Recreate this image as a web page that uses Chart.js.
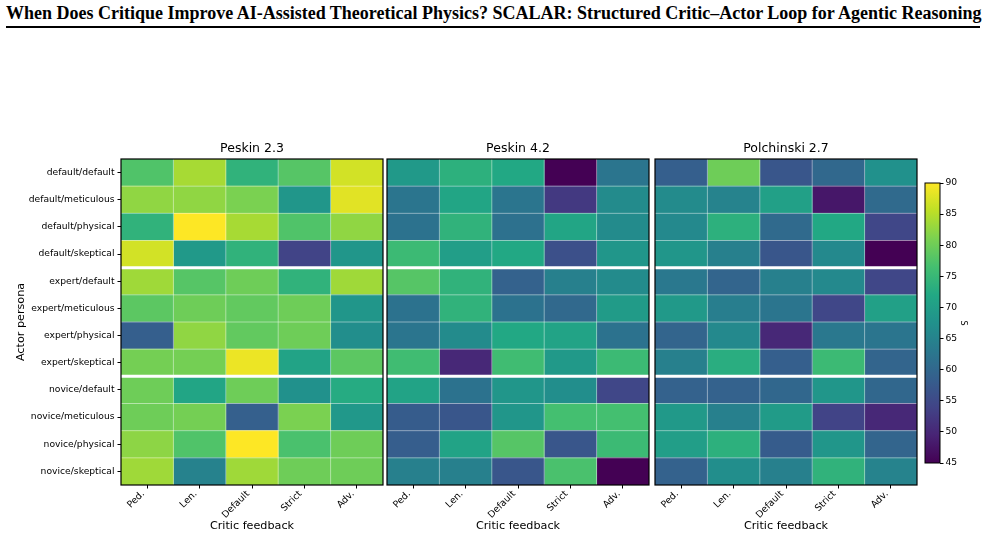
<!DOCTYPE html>
<html>
<head>
<meta charset="utf-8">
<script src="https://cdn.jsdelivr.net/npm/chart.js@4"></script>
<style>
  body { margin: 0; background: #fff; width: 986px; height: 536px; position: relative; overflow: hidden; }
  #hdr { position: absolute; left: 6px; top: 3px; width: 974px; text-align: center; white-space: nowrap;
         font: bold 18px "Liberation Serif", "Times New Roman", serif; border-bottom: 2px solid #000; padding-bottom: 2px; }
  canvas { position: absolute; }
</style>
</head>
<body>
<div id="hdr">When Does Critique Improve AI-Assisted Theoretical Physics? SCALAR: Structured Critic–Actor Loop for Agentic Reasoning</div>
<canvas id="p1" width="386" height="401" style="left:0;top:135px"></canvas>
<canvas id="p2" width="268" height="401" style="left:384px;top:135px"></canvas>
<canvas id="p3" width="268" height="401" style="left:652px;top:135px"></canvas>
<canvas id="cb" width="68" height="306" style="left:918px;top:170px"></canvas>
<script>
const personas = ['default/default', 'default/meticulous', 'default/physical', 'default/skeptical',
  'expert/default', 'expert/meticulous', 'expert/physical', 'expert/skeptical',
  'novice/default', 'novice/meticulous', 'novice/physical', 'novice/skeptical'];
const feedback = ['Ped.', 'Len.', 'Default', 'Strict', 'Adv.'];

// score S, rows = actor persona, cols = critic feedback
const peskin23 = [
  [77.5, 84, 74, 78, 87],
  [82.5, 82.5, 81, 68.5, 88],
  [74, 90, 84, 77.5, 82.5],
  [87, 69, 74, 54, 68.5],
  [83.5, 78, 80, 74, 83.5],
  [78.5, 80, 79, 80, 68.5],
  [58.5, 82.5, 79, 80, 67],
  [80.5, 80.5, 88.8, 71, 78.5],
  [80, 71.5, 80, 67.5, 72.5],
  [80, 80.5, 58.7, 81, 68.8],
  [82.3, 77.5, 90, 77, 80],
  [83.5, 64.8, 83.5, 80, 80]
];
const peskin42 = [
  [69, 73.5, 72, 45, 62.5],
  [62.5, 71.5, 62.5, 52.5, 66.5],
  [62, 74, 61.8, 71.5, 66.5],
  [75.5, 70, 72, 56, 68.5],
  [78, 74, 59, 64.5, 66.5],
  [62, 74, 62, 60.3, 69.5],
  [62.5, 66.5, 72, 71, 62],
  [76, 50, 76, 69, 75.5],
  [71, 62, 68.5, 67, 54.5],
  [58, 57, 68.5, 76.5, 76.5],
  [58.3, 71, 78, 57, 75.5],
  [64.5, 64.5, 57, 77, 45]
];
const polchinski27 = [
  [58.5, 80, 57, 60.2, 67.5],
  [66.5, 65, 70.5, 47.8, 60.5],
  [66, 73.5, 60.5, 72, 54.5],
  [68.5, 64.5, 57, 66, 45],
  [63, 59.5, 64.5, 66, 54.5],
  [69, 64, 62.5, 54.5, 70.5],
  [59.5, 66, 50, 63, 62.5],
  [64.5, 73, 58.5, 75.5, 59.5],
  [59, 59, 60, 68.5, 60],
  [69, 64.5, 69.5, 54, 50],
  [70, 73.5, 58, 68.5, 59.5],
  [59, 67, 64.5, 74, 65]
];
const vmin = 45, vmax = 90;
const cbTicks = [45, 50, 55, 60, 65, 70, 75, 80, 85, 90];

const viridisStops = ['#440154', '#482475', '#414487', '#355f8d', '#2a788e', '#21918c',
  '#22a884', '#44bf70', '#7ad151', '#bddf26', '#fde725'];

function hexRgb(h) {
  return [parseInt(h.slice(1, 3), 16), parseInt(h.slice(3, 5), 16), parseInt(h.slice(5, 7), 16)];
}
function viridis(v) {
  let t = Math.min(1, Math.max(0, (v - vmin) / (vmax - vmin))) * (viridisStops.length - 1);
  const i = Math.min(Math.floor(t), viridisStops.length - 2);
  const f = t - i;
  const a = hexRgb(viridisStops[i]), b = hexRgb(viridisStops[i + 1]);
  const c = a.map((x, k) => Math.round(x + (b[k] - x) * f));
  return `rgb(${c[0]},${c[1]},${c[2]})`;
}

const FONT = '"DejaVu Sans", sans-serif';
const TICK = 9.2;

// cell separators, group separators, frame and panel title
function cellLines(title) {
  return {
    id: 'cellLines',
    afterDatasetsDraw(chart) {
      const { ctx, chartArea: a, scales: { x, y } } = chart;
      ctx.save();
      ctx.strokeStyle = 'rgba(255,255,255,0.45)';
      ctx.lineWidth = 1;
      for (let c = 1; c < feedback.length; c++) {
        const px = x.getPixelForValue(c);
        ctx.beginPath(); ctx.moveTo(px, a.top); ctx.lineTo(px, a.bottom); ctx.stroke();
      }
      for (let r = 1; r < personas.length; r++) {
        const py = (y.getPixelForValue(r - 1) + y.getPixelForValue(r)) / 2;
        ctx.beginPath(); ctx.moveTo(a.left, py); ctx.lineTo(a.right, py); ctx.stroke();
      }
      ctx.strokeStyle = '#fff';
      ctx.lineWidth = 3;
      [4, 8].forEach(r => {
        const py = (y.getPixelForValue(r - 1) + y.getPixelForValue(r)) / 2;
        ctx.beginPath(); ctx.moveTo(a.left, py); ctx.lineTo(a.right, py); ctx.stroke();
      });
      ctx.strokeStyle = '#000';
      ctx.lineWidth = 1.2;
      ctx.strokeRect(a.left, a.top, a.right - a.left, a.bottom - a.top);
      ctx.fillStyle = '#000';
      ctx.font = '12.5px ' + FONT;
      ctx.textAlign = 'center';
      ctx.textBaseline = 'middle';
      ctx.fillText(title, (a.left + a.right) / 2, a.top - 10);
      ctx.restore();
    }
  };
}

function makePanel(id, title, values, first) {
  const datasets = feedback.map((f, c) => ({
    label: f,
    data: personas.map(p => ({ x: [c, c + 1], y: p })),
    backgroundColor: values.map(row => viridis(row[c])),
    borderWidth: 0,
    grouped: false,
    barPercentage: 1,
    categoryPercentage: 1
  }));
  new Chart(document.getElementById(id), {
    type: 'bar',
    data: { labels: personas, datasets },
    options: {
      indexAxis: 'y',
      responsive: false,
      animation: false,
      events: [],
      layout: { padding: { left: first ? 14 : 3, right: 3, top: 24, bottom: 0 } },
      plugins: {
        legend: { display: false },
        tooltip: { enabled: false },
        title: { display: false }
      },
      scales: {
        x: {
          type: 'linear', min: 0, max: feedback.length,
          afterBuildTicks: s => { s.ticks = feedback.map((f, i) => ({ value: i + 0.5 })); },
          afterFit: s => { s.height = 51; },
          ticks: { callback: (v, i) => feedback[i], minRotation: 45, maxRotation: 45, color: '#000',
                   font: { family: FONT, size: 9.4 }, padding: 0, labelOffset: -4 },
          grid: { drawOnChartArea: false, drawTicks: true, tickLength: 3.5, color: '#000' },
          border: { display: false },
          title: { display: true, text: 'Critic feedback', color: '#000', font: { family: FONT, size: 11.2 }, padding: { top: 0, bottom: 3 } }
        },
        y: {
          type: 'category',
          display: first,
          afterFit: s => { s.width = first ? 107 : 0; },
          ticks: { color: '#000', font: { family: FONT, size: TICK }, padding: 3 },
          grid: { offset: false, drawOnChartArea: false, drawTicks: true, tickLength: 3.5, color: '#000' },
          border: { display: false },
          title: { display: true, text: 'Actor persona', color: '#000', font: { family: FONT, size: 11.2 }, padding: 0 }
        }
      }
    },
    plugins: [cellLines(title)]
  });
}

makePanel('p1', 'Peskin 2.3', peskin23, true);
makePanel('p2', 'Peskin 4.2', peskin42, false);
makePanel('p3', 'Polchinski 2.7', polchinski27, false);

// colorbar
new Chart(document.getElementById('cb'), {
  type: 'bar',
  data: {
    labels: ['S'],
    datasets: [{
      data: [[vmin, vmax]],
      backgroundColor: ctx => {
        const a = ctx.chart.chartArea;
        if (!a) return '#21918c';
        const g = ctx.chart.ctx.createLinearGradient(0, a.bottom, 0, a.top);
        viridisStops.forEach((c, i) => g.addColorStop(i / (viridisStops.length - 1), c));
        return g;
      },
      borderWidth: 0,
      barPercentage: 1,
      categoryPercentage: 1
    }]
  },
  options: {
    responsive: false,
    animation: false,
    events: [],
    layout: { padding: { left: 7, right: 0, top: 13, bottom: 13 } },
    plugins: { legend: { display: false }, tooltip: { enabled: false } },
    scales: {
      x: { display: false },
      y: {
        position: 'right', min: vmin, max: vmax,
        afterBuildTicks: s => { s.ticks = cbTicks.map(v => ({ value: v })); },
        afterFit: s => { s.width = 46; },
        ticks: { color: '#000', font: { family: FONT, size: TICK }, padding: 2 },
        grid: { drawOnChartArea: false, drawTicks: true, tickLength: 3.5, color: '#000' },
        border: { display: false },
        title: { display: true, text: 'S', color: '#000', font: { family: FONT, size: 8 }, padding: { top: 18, bottom: 0 } }
      }
    }
  },
  plugins: [{
    id: 'cbFrame',
    afterDatasetsDraw(chart) {
      const { ctx, chartArea: a } = chart;
      ctx.save();
      ctx.strokeStyle = '#000';
      ctx.lineWidth = 1;
      ctx.strokeRect(a.left, a.top, a.right - a.left, a.bottom - a.top);
      ctx.restore();
    }
  }]
});
</script>
</body>
</html>
